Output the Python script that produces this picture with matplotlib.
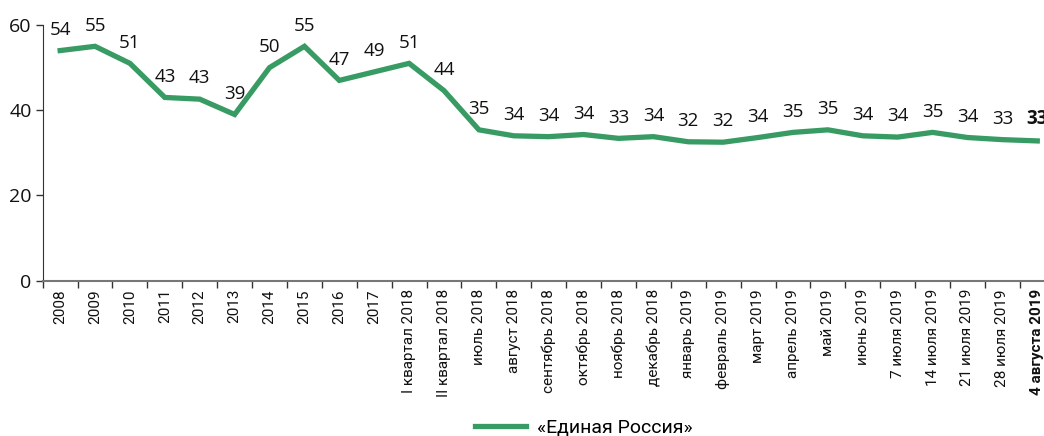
import matplotlib
matplotlib.use("Agg")
import matplotlib.pyplot as plt
import numpy as np

categories = ["2008", "2009", "2010", "2011", "2012", "2013", "2014", "2015", "2016", "2017",
              "I квартал 2018", "II квартал 2018", "июль 2018", "август 2018", "сентябрь 2018",
              "октябрь 2018", "ноябрь 2018", "декабрь 2018", "январь 2019", "февраль 2019",
              "март 2019", "апрель 2019", "май 2019", "июнь 2019", "7 июля 2019",
              "14 июля 2019", "21 июля 2019", "28 июля 2019", "4 августа 2019"]
values = [54, 55, 51, 43, 42.6, 39, 50, 55, 47, 49,
          51, 44.6, 35.4, 34, 33.8, 34.3, 33.4, 33.8, 32.6, 32.5,
          33.6, 34.8, 35.4, 34, 33.7, 34.8, 33.6, 33.1, 32.8]
labels = ["54", "55", "51", "43", "43", "39", "50", "55", "47", "49",
          "51", "44", "35", "34", "34", "34", "33", "34", "32", "32",
          "34", "35", "35", "34", "34", "35", "34", "33", "33"]
series_name = "«Единая Россия»"
yticks = [0, 20, 40, 60]

color = "#389b63"
narrow = ["Roboto", "DejaVu Sans"]
label_font = ["Open Sans", "DejaVu Sans"]

fig = plt.figure(figsize=(10.44, 4.36), dpi=100)
ax = fig.add_axes([42.7 / 1044, 1 - 280.7 / 436, 1012 / 1044, (280.7 - 25) / 436])

x = np.arange(len(categories))
line, = ax.plot(x, values, color=color, lw=3.8, solid_joinstyle="miter", label=series_name)

for i, (xi, v, lab) in enumerate(zip(x, values, labels)):
    ax.annotate(lab, (xi, v), xytext=(0, 8.5), textcoords="offset points",
                ha="center", va="bottom", fontsize=13.5, family=label_font,
                fontweight="bold" if i == len(x) - 1 else "normal", color="#111111",
                annotation_clip=False)

ax.set_xlim(-0.5, len(categories) - 0.5)
ax.set_ylim(0, 60)
ax.set_yticks(yticks)
ax.set_yticklabels([str(t) for t in yticks], fontsize=14, family=label_font, color="#111111")
ax.tick_params(axis="y", length=5, width=1, color="#333333", pad=3)

ax.set_xticks(x)
ax.set_xticklabels(categories, rotation=90, fontsize=11, family=narrow, va="top", ha="center",
                   color="#111111")
ax.get_xticklabels()[-1].set_fontweight("bold")
ax.tick_params(axis="x", which="major", length=0, pad=6)
ax.set_xticks(np.arange(len(categories) + 1) - 0.5, minor=True)
ax.tick_params(axis="x", which="minor", length=5, width=1, color="#333333")

for s in ["top", "right"]:
    ax.spines[s].set_visible(False)
ax.spines["left"].set_color("#333333")
ax.spines["bottom"].set_color("#777777")
ax.spines["bottom"].set_linewidth(1.5)

fig.legend(handles=[line], labels=[series_name], loc="center", bbox_to_anchor=(584 / 1044, 1 - 428 / 436),
           frameon=False, prop={"family": narrow, "size": 14}, handlelength=2.6, handletextpad=0.6)

fig.savefig("out.png", dpi=100)
